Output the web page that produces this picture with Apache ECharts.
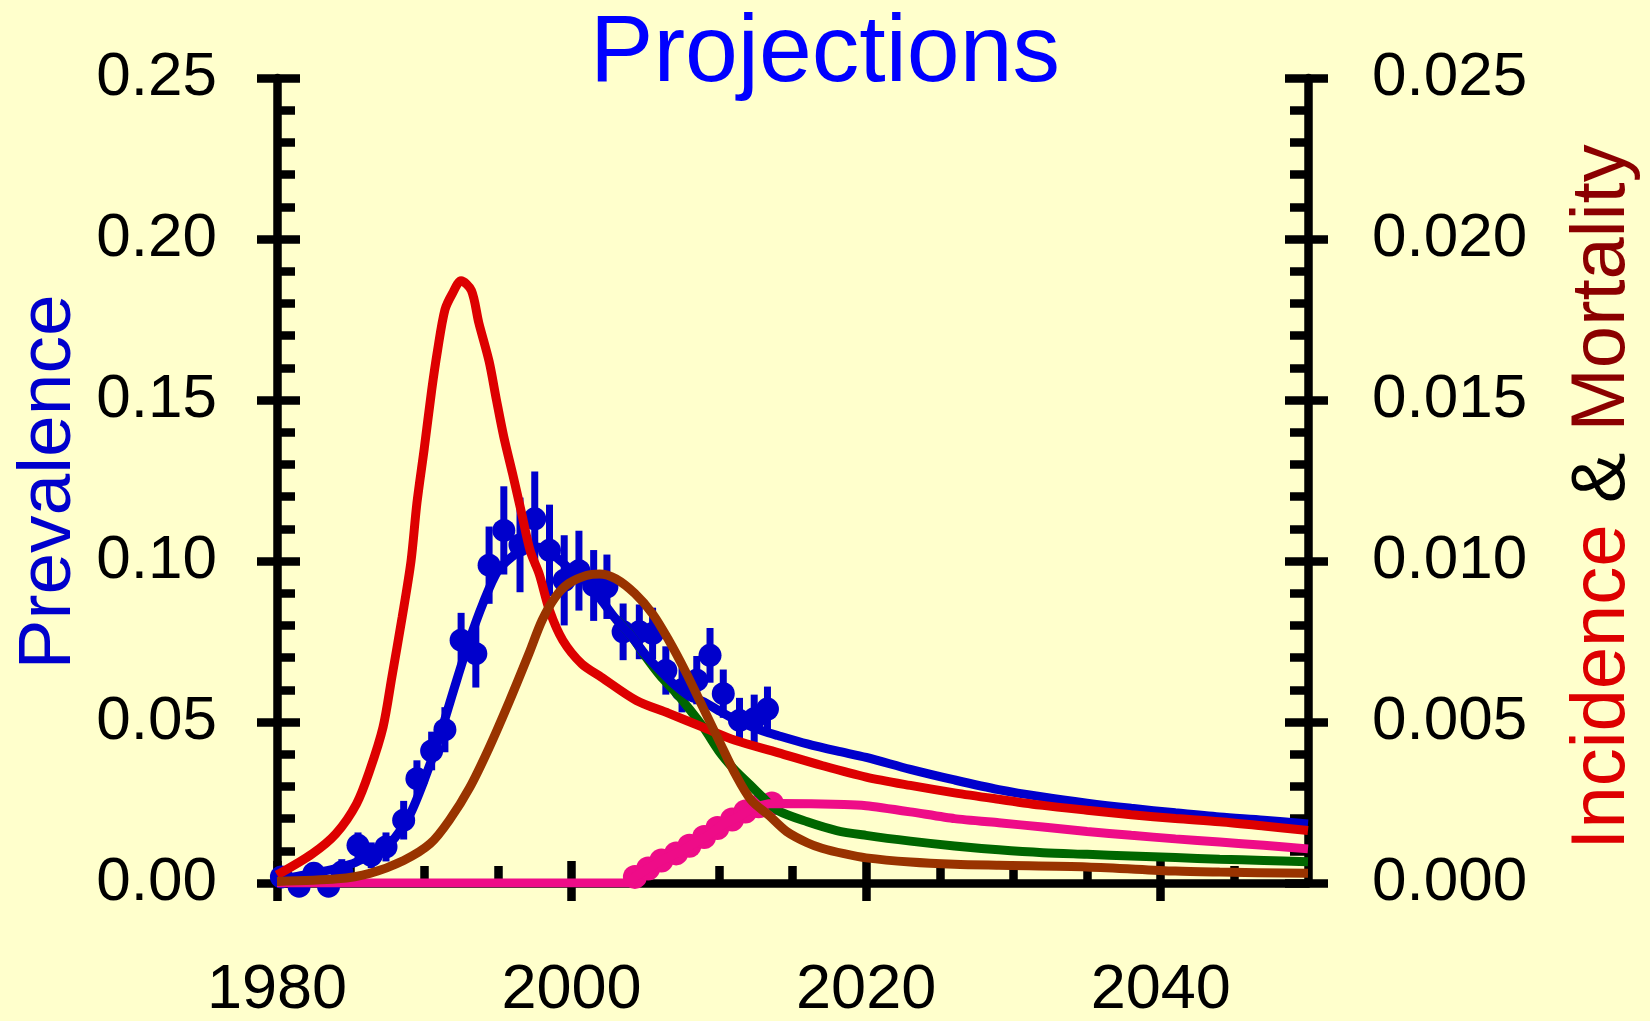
<!DOCTYPE html>
<html><head><meta charset="utf-8">
<script src="https://cdn.jsdelivr.net/npm/echarts@6/dist/echarts.min.js"></script>
<style>html,body{margin:0;padding:0;background:#FFFFCC;}#c{width:1650px;height:1021px;}</style>
</head><body><div id="c"></div><script>
const FONT = '"Liberation Sans", Arial, sans-serif';

// tick labels
const xMajorTicks = [1980, 2000, 2020, 2040];
const xMinorTicks = [1985, 1990, 1995, 2005, 2010, 2015, 2025, 2030, 2035, 2045];

// prevalence model (left axis)
const prevYears = [1980,1981,1982,1983,1984,1985,1986,1987,1988,1989,1990,1991,1992,1993,1994,1995,1996,1997,1998,1999,2000,2001,2002,2003,2004,2005,2006,2007,2008,2009,2010,2011,2012,2013,2014,2016,2018,2020,2023,2026,2029,2032,2035,2038,2041,2044,2047,2050];
const prevModel = [0.0013,0.0018,0.0026,0.0035,0.0045,0.0058,0.0078,0.0100,0.0140,0.0210,0.0320,0.0450,0.0600,0.0745,0.0870,0.0970,0.1015,0.1045,0.1040,0.1010,0.0970,0.0935,0.0880,0.0820,0.0770,0.0710,0.0660,0.0615,0.0580,0.0562,0.0535,0.0510,0.0490,0.0472,0.0458,0.0432,0.0410,0.0390,0.0353,0.0320,0.0290,0.0267,0.0248,0.0232,0.0218,0.0205,0.0195,0.0183];

// prevalence scenario (green, left axis)
const greenYears = [2003,2004,2005,2006,2007,2008,2009,2010,2011,2012,2013,2014,2016,2018,2020,2023,2026,2029,2032,2035,2038,2041,2044,2047,2050];
const greenModel = [0.0820,0.0770,0.0705,0.0645,0.0595,0.0540,0.0480,0.0410,0.0355,0.0310,0.0265,0.0225,0.0190,0.0163,0.0148,0.0130,0.0115,0.0103,0.0094,0.0089,0.0084,0.0079,0.0074,0.0070,0.0066];

// pink (left axis)
const pinkYears = [1980,2004,2004.3,2005.2,2006.1,2007.3,2008.2,2009.3,2010.2,2011.3,2012.2,2013.4,2014,2018.5,2020,2023,2026,2029,2032,2035,2038,2041,2044,2047,2050];
const pinkModel = [0,0,0.0019,0.0045,0.0070,0.0096,0.0120,0.0148,0.0180,0.0205,0.0230,0.0246,0.0247,0.0244,0.0240,0.0221,0.0200,0.0187,0.0174,0.0160,0.0148,0.0137,0.0127,0.0117,0.0106];
const pinkDotYears = [2004.3,2005.2,2006.1,2007.1,2008.0,2009.0,2009.9,2010.9,2011.8,2012.7,2013.6];
const pinkDotVals  = [0.0019,0.0045,0.0070,0.0092,0.0116,0.0143,0.0171,0.0197,0.0222,0.0238,0.0247];

// incidence (red, right axis)
const incYears = [1980,1982.4,1984,1985.4,1986.3,1987.2,1987.8,1988.5,1989.1,1989.5,1990,1990.5,1990.9,1991.4,1991.9,1992.5,1993.2,1993.7,1994.4,1994.9,1995.4,1996,1996.6,1997.2,1997.8,1998.5,1999.4,2000.7,2002,2004.4,2006.6,2008.9,2011.1,2014,2017,2020,2023,2026,2029,2032,2035,2038,2041,2044,2047,2050];
const incVals  = [0.00025,0.00091,0.00153,0.00246,0.0035,0.00484,0.0064,0.00826,0.0100,0.0118,0.0135,0.0153,0.01654,0.0178,0.0183,0.0187,0.0184,0.0174,0.0162,0.0150,0.01385,0.0127,0.0115,0.0103,0.0096,0.00847,0.00754,0.0068,0.0064,0.00567,0.00527,0.00484,0.00443,0.00405,0.00365,0.00329,0.00303,0.0028,0.0026,0.00241,0.00226,0.00212,0.0020,0.0019,0.00177,0.00163];

// mortality (brown, right axis)
const morYears = [1980,1984.1,1986.3,1988.6,1990.4,1991.7,1993.1,1994.4,1995.8,1997.1,1998,1998.9,1999.8,2001,2001.9,2003,2004.3,2005.5,2006.6,2007.7,2008.9,2010,2011.1,2012.2,2013.4,2014.6,2016,2017,2018.5,2020,2023,2026,2029,2035,2041,2044,2050];
const morVals  = [0.00005,0.00013,0.0003,0.0007,0.00122,0.00195,0.00298,0.0042,0.00567,0.00712,0.00816,0.00888,0.0093,0.00955,0.0096,0.00945,0.00899,0.00836,0.00754,0.0066,0.00547,0.00443,0.0034,0.00257,0.0021,0.0016,0.00125,0.00108,0.00091,0.00078,0.00065,0.00058,0.00055,0.0005,0.00037,0.00034,0.0003];

// observed prevalence with error bars (left axis)
const obsYears = [1980.3,1981.5,1982.5,1983.5,1984.4,1985.5,1986.4,1987.4,1988.6,1989.5,1990.5,1991.4,1992.5,1993.5,1994.4,1995.4,1996.5,1997.5,1998.5,1999.5,2000.5,2001.5,2002.4,2003.5,2004.6,2005.5,2006.4,2007.5,2008.5,2009.4,2010.3,2011.4,2012.4,2013.3];
const obsVals  = [0.0019,-0.0010,0.0030,-0.0010,0.0034,0.0117,0.0086,0.0112,0.0195,0.0324,0.0410,0.0476,0.0754,0.0712,0.0987,0.1095,0.1050,0.1131,0.1033,0.0940,0.0970,0.0924,0.0920,0.0780,0.0780,0.0775,0.0660,0.0600,0.0630,0.0707,0.0588,0.0505,0.0510,0.0540];
const obsErr   = [0.0025,0.0020,0.0030,0.0030,0.0040,0.0040,0.0040,0.0045,0.0060,0.0057,0.0060,0.0070,0.0085,0.0105,0.0120,0.0137,0.0147,0.0147,0.0142,0.0140,0.0124,0.0110,0.0100,0.0088,0.0085,0.0080,0.0075,0.0070,0.0075,0.0085,0.0075,0.0070,0.0075,0.0070];

const zip = (xs, ys) => xs.map((x, i) => [x, ys[i]]);

const LW = 9;     // series line width
const AX = {color: '#000', width: 8.5};
const chart = echarts.init(document.getElementById('c'), null, {renderer: 'canvas'});
const xBase = {type: 'value', min: 1980, max: 2050, gridIndex: 0, position: 'bottom', splitLine: {show: false}};
const yLBase = {type: 'value', min: 0, max: 0.25, interval: 0.05, position: 'left', splitLine: {show: false}};
const yRBase = {type: 'value', min: 0, max: 0.025, interval: 0.005, position: 'right', splitLine: {show: false}};

chart.setOption({
  backgroundColor: '#FFFFCC',
  animation: false,
  title: {
    text: 'Projections', left: 'center', top: 7, padding: 0,
    textStyle: {fontFamily: FONT, fontSize: 95, fontWeight: 'normal', color: '#0000FF'}
  },
  grid: {left: 277, right: 342, top: 78, bottom: 138, containLabel: false, outerBoundsMode: 'none'},
  xAxis: [
    Object.assign({}, xBase, {
      axisLine: {show: true, onZero: false, lineStyle: AX},
      axisTick: {show: true, inside: true, length: 22, lineStyle: AX, customValues: xMajorTicks},
      axisLabel: {show: true, margin: 83, fontFamily: FONT, fontSize: 63, lineHeight: 50, color: '#000',
        customValues: xMajorTicks, formatter: v => String(v)}
    }),
    Object.assign({}, xBase, {
      axisLine: {show: false, onZero: false},
      axisTick: {show: true, inside: true, length: 17, lineStyle: AX, customValues: xMinorTicks},
      axisLabel: {show: false}
    }),
    Object.assign({}, xBase, {
      axisLine: {show: false, onZero: false},
      axisTick: {show: true, inside: false, length: 18, lineStyle: AX, customValues: xMajorTicks},
      axisLabel: {show: false}
    })
  ],
  yAxis: [
    Object.assign({}, yLBase, {
      axisLine: {show: true, onZero: false, lineStyle: AX},
      axisTick: {show: true, inside: true, length: 23, lineStyle: AX},
      minorTick: {show: true, splitNumber: 5, length: 18, lineStyle: AX},
      axisLabel: {show: true, margin: 60, fontFamily: FONT, fontSize: 62, color: '#000',
        padding: [8, 0, 0, 0], formatter: v => v.toFixed(2)}
    }),
    Object.assign({}, yLBase, {
      axisLine: {show: false},
      axisTick: {show: true, inside: false, length: 20, lineStyle: AX},
      axisLabel: {show: false}
    }),
    Object.assign({}, yRBase, {
      axisLine: {show: true, onZero: false, lineStyle: AX},
      axisTick: {show: true, inside: true, length: 23, lineStyle: AX},
      minorTick: {show: true, splitNumber: 5, length: 18, lineStyle: AX},
      axisLabel: {show: true, margin: 64, fontFamily: FONT, fontSize: 62, color: '#000',
        padding: [8, 0, 0, 0], formatter: v => v.toFixed(3)}
    }),
    Object.assign({}, yRBase, {
      axisLine: {show: false},
      axisTick: {show: true, inside: false, length: 20, lineStyle: AX},
      axisLabel: {show: false}
    })
  ],
  graphic: [
    {type: 'text', x: 49, y: 482, rotation: Math.PI / 2, silent: true,
      style: {text: 'Prevalence', fill: '#0000CC', fontFamily: FONT, fontSize: 75, align: 'center', verticalAlign: 'middle'}},
    {type: 'text', x: 1603, y: 497, rotation: Math.PI / 2, silent: true,
      style: {text: '{a|Incidence} {b|&} {c|Mortality}', fontFamily: FONT, fontSize: 76, align: 'center', verticalAlign: 'middle',
        rich: {
          a: {fill: '#DD0000', fontFamily: FONT, fontSize: 76},
          b: {fill: '#000000', fontFamily: FONT, fontSize: 76},
          c: {fill: '#8B0000', fontFamily: FONT, fontSize: 76}
        }}}
  ],
  series: [
    {type: 'line', name: 'scenario', xAxisIndex: 0, yAxisIndex: 0, data: zip(greenYears, greenModel),
      showSymbol: false, smooth: 0.3, lineStyle: {color: '#006600', width: LW}, itemStyle: {color: '#006600'}},
    {type: 'line', name: 'prevalence', xAxisIndex: 0, yAxisIndex: 0, data: zip(prevYears, prevModel),
      showSymbol: false, smooth: 0.3, lineStyle: {color: '#0000CC', width: LW}, itemStyle: {color: '#0000CC'}},
    {type: 'custom', name: 'errors', xAxisIndex: 0, yAxisIndex: 0, clip: false,
      data: obsYears.map((x, i) => [x, obsVals[i], obsErr[i]]),
      encode: {x: 0, y: 1},
      renderItem: (params, api) => {
        const x = api.value(0), v = api.value(1), e = api.value(2);
        const p1 = api.coord([x, v - e]), p2 = api.coord([x, v + e]);
        return {type: 'line', shape: {x1: p1[0], y1: p1[1], x2: p2[0], y2: p2[1]},
          style: {stroke: '#0000CC', lineWidth: 7}};
      }},
    {type: 'scatter', name: 'observed', xAxisIndex: 0, yAxisIndex: 0, clip: false, data: zip(obsYears, obsVals),
      symbol: 'circle', symbolSize: 23, itemStyle: {color: '#0000CC', opacity: 1}},
    {type: 'line', name: 'pink', xAxisIndex: 0, yAxisIndex: 0, data: zip(pinkYears, pinkModel),
      showSymbol: false, smooth: 0.2, lineStyle: {color: '#EE0C88', width: LW}, itemStyle: {color: '#EE0C88'}},
    {type: 'scatter', name: 'pinkdots', xAxisIndex: 0, yAxisIndex: 0, clip: false, data: zip(pinkDotYears, pinkDotVals),
      symbol: 'circle', symbolSize: 24, itemStyle: {color: '#EE0C88', opacity: 1}},
    {type: 'line', name: 'incidence', xAxisIndex: 0, yAxisIndex: 2, data: zip(incYears, incVals),
      showSymbol: false, smooth: 0.3, lineStyle: {color: '#DD0000', width: LW}, itemStyle: {color: '#DD0000'}},
    {type: 'line', name: 'mortality', xAxisIndex: 0, yAxisIndex: 2, data: zip(morYears, morVals),
      showSymbol: false, smooth: 0.3, lineStyle: {color: '#993300', width: LW}, itemStyle: {color: '#993300'}}
  ]
});
</script></body></html>
